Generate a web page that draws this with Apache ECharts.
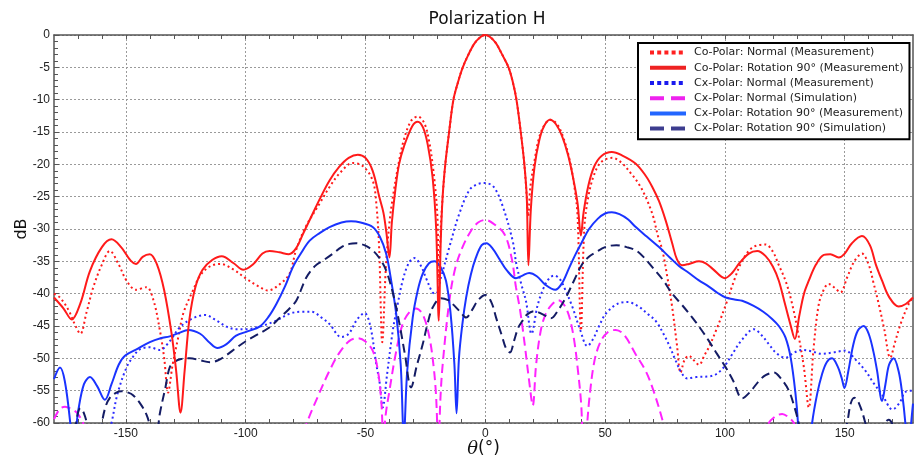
<!DOCTYPE html>
<html>
<head>
<meta charset="utf-8">
<script src="https://cdn.jsdelivr.net/npm/echarts@6/dist/echarts.min.js"></script>
<style>html,body{margin:0;padding:0;background:#fff}#c{width:915px;height:461px}</style>
</head>
<body>
<div id="c"></div>
<script>
// ---- axis ticks / labels ----
const xLabelValues = [-150, -100, -50, 0, 50, 100, 150];
const xMinorTickValues = [-170,-160,-150,-140,-130,-120,-110,-100,-90,-80,-70,-60,-50,-40,-30,-20,-10,0,10,20,30,40,50,60,70,80,90,100,110,120,130,140,150,160,170];

// ---- Co-Polar: Normal (Measurement) ----
const coNormTheta = [-180,-177.5,-174,-171,-169,-166.5,-163.6,-160,-156.7,-153,-149.7,-145.8,-141.4,-138.5,-135.8,-134,-132.4,-130.5,-128,-126,-122,-119,-115,-110.5,-105,-99.7,-95,-90.7,-86,-81.7,-79,-75,-69.2,-65,-60.8,-55.3,-51,-47,-45.5,-44.3,-43,-41.5,-40,-38.6,-36.5,-34,-31,-28.2,-25.5,-23.5,-21.5,-20,-19.4,-18.6,-17.8,-16.7,-15.1,-13.3,-11.4,-9.4,-7,-4.5,-2,0,2,4.5,7,9.7,11.5,13,14.8,16.3,17.3,17.9,18.8,20.5,22.5,25,27.2,30,32.5,35,37,38.5,39.9,41.3,43,45.5,48.5,53,57,61,64,67,70,72,73.9,76,78,80,81.5,83.2,85,87,89.2,91.5,93.3,96.5,100,104,107.2,111,114,117,120,122.5,125.3,128,130.5,133,135,137,139.2,141.5,143.3,145.5,148.2,151,154,157.2,160,162,164.2,166.5,169,171,173.5,176.7,178.5];
const coNormDb    = [-40,-40.6,-42.5,-45,-46.2,-43,-39,-35.5,-33.4,-35.5,-38,-39.4,-39,-41,-45.7,-50,-55.3,-51,-46.5,-43,-39.5,-37.2,-35.8,-35.4,-36.3,-37.7,-38.8,-39.5,-38.6,-36.9,-33.3,-29.7,-26.1,-23.5,-21.4,-19.8,-20.3,-22.5,-26,-33,-47.5,-36,-29,-25.1,-20.5,-16.2,-13.3,-12.6,-13.6,-16.3,-21.5,-28,-38,-30,-25,-20,-15,-10,-7.3,-5,-3,-1.3,-0.3,0,-0.3,-1.3,-3,-5,-7.3,-10,-15,-20,-25,-28,-23.5,-19.5,-15.8,-13.7,-13.1,-13.8,-15.8,-19,-23,-28,-45.7,-30,-25,-21.5,-19.6,-19,-19.8,-21.5,-23,-25.1,-28,-31,-33.3,-37.5,-42.1,-48,-52.2,-50.2,-49.6,-50.3,-51,-49.5,-48.3,-45.5,-42.1,-37.8,-34.9,-33,-32.5,-32.4,-33.5,-35.6,-38,-41.5,-46,-51.5,-57.6,-48.5,-41.6,-39.2,-38.5,-39,-39.8,-37.5,-35,-33.8,-35.5,-38.3,-41.6,-45.5,-49.9,-47.5,-44.5,-41.6,-40.5];

// ---- Co-Polar: Rotation 90° (Measurement) ----
const coRotTheta = [-180,-176,-172.6,-169,-165,-160,-156,-152,-148,-145.8,-143,-140,-137,-134,-131,-129,-127.2,-125.5,-123.5,-121,-118,-114,-110,-105,-101,-97,-93,-90,-86,-82,-79,-76,-72,-69,-65,-61,-57,-53.2,-50,-47,-44.2,-42.5,-41.3,-40,-39,-37.5,-36,-34,-30.5,-28.2,-26,-24,-22,-20.5,-19.4,-18.6,-17.8,-16.7,-15.1,-13.3,-11.4,-9.4,-7,-4.5,-2,0,2,4.5,7,9.7,11.5,13,14.8,16.3,17.3,18,19,20.5,22.5,24.5,27,29.5,32,34.5,36.5,38.5,39.9,41,43,45.5,48.5,52.8,57,62.8,67,69.7,72.5,75.3,78,80,82.2,85,89.2,92,95,100,103,106,110,113.5,117,120,122.5,125,127.5,129.2,131,133,135,138,141.3,144,147.5,150,153,157.2,160.5,163,165.6,168.5,172.5,175.5,178.5];
const coRotDb    = [-40.6,-42.3,-44,-41.5,-36.5,-32.8,-31.6,-32.8,-34.9,-35.4,-34.3,-33.9,-35.5,-39.5,-46,-52,-58.4,-52,-44,-39,-36.3,-34.8,-34.2,-35.3,-36.3,-35.5,-33.8,-33.4,-33.6,-33.9,-33,-30.7,-27.6,-25.3,-22.5,-20.4,-19,-18.5,-19,-21,-25.1,-27.5,-30.5,-34.4,-29,-23.8,-20,-17.3,-14.1,-13.4,-14.3,-17,-22,-30,-44.2,-32,-25,-20,-15,-10,-7.3,-5,-3,-1.3,-0.3,0,-0.3,-1.3,-3,-5,-7.3,-10,-15,-20,-25,-35.6,-27,-20.5,-16.3,-14.1,-13.1,-13.8,-15.6,-18.5,-21.8,-26,-31,-27.5,-23.3,-20.3,-18.7,-18.1,-18.6,-19.9,-21.8,-23.5,-25.7,-28.7,-32.2,-34.7,-35.6,-35.4,-35,-35.3,-36.2,-37.6,-36.8,-35.3,-33.8,-33.4,-34.2,-35.8,-38,-41.5,-45,-47,-43.5,-40,-38,-35.5,-34,-33.9,-34.4,-33.8,-32.2,-31.1,-32.5,-35.5,-38,-40.5,-42,-41.6,-40.6];

// ---- Cx-Polar: Normal (Measurement) ----
const cxNormMeasTheta = [-180,-160,-156,-153.5,-149.7,-146.5,-144.2,-140,-135.8,-132,-127.5,-122,-117,-112,-108,-104,-99.7,-94.2,-88,-81.7,-77,-72.6,-68,-65,-60.1,-57,-53.5,-50.4,-48,-45.5,-44,-42.8,-41,-38.6,-36.5,-34.5,-32,-29.6,-27,-24.5,-22,-20.5,-18.5,-15,-11,-6.7,-3.5,0,3.5,7,11.4,13,15,17,19.3,21.7,23.9,26.5,28.75,31,33.5,36.4,39.5,42.6,45,47.5,50.3,55,59.3,64,68,71.1,74.5,77,79.5,82,84.3,88,93.3,96.1,99.5,103,107,112.1,115.5,118.3,121.5,125.3,128.5,132.2,136,140.5,145,150.3,154,158.6,162,165.6,170,173,175.3,178.5];
const cxNormMeasDb    = [-75,-66,-60,-55.5,-51.4,-49.5,-48.6,-48.3,-48.7,-47.5,-45.2,-43.8,-43.3,-44.2,-45.1,-45.5,-45.5,-45.1,-44.3,-43.1,-42.8,-42.8,-43.8,-44.7,-46.7,-46.2,-44,-43,-45,-50.9,-54,-57.6,-52.5,-45.7,-41.5,-38,-35.3,-34.5,-35.6,-37.8,-39.8,-40,-37.5,-32.8,-27.8,-24,-23.1,-22.9,-23.5,-26.2,-31.8,-35.5,-38.5,-41.2,-46.2,-42,-39.5,-37.7,-37.2,-37.7,-39.5,-42.1,-45.5,-48.1,-47,-45,-43.1,-41.6,-41.3,-42,-43.2,-44.2,-46.3,-48.2,-50.4,-52.3,-53.1,-52.9,-52.8,-52.5,-51.4,-49.4,-47.2,-45.5,-46.5,-47.8,-49.2,-49.9,-49.2,-48.7,-48.9,-49.3,-49.1,-48.8,-50,-51.9,-53.8,-55.6,-57.9,-56.8,-55.2,-55];

// ---- Cx-Polar: Normal (Simulation) ----
const cxNormSimTheta = [-180,-177.5,-175.4,-173,-170.5,-168.5,-167,-165,-80,-77,-74.7,-70,-65,-61,-56.7,-53.2,-50,-47,-45,-43.5,-42.5,-41.5,-40,-37.5,-34.5,-31.5,-28.9,-26,-23.3,-21.5,-20.5,-19.6,-18.7,-17.8,-15,-12.5,-9.5,-6,-3,0,3.5,8,11,12.8,14.5,16.5,18.3,19.8,21.2,23,25,27.5,30.5,33,35,37,38.7,40,41,42,43.5,45.5,48,51,54.5,58,62.8,67,70,73.9,76,115,118,121,123.9,126.5,128.75,131,178.5];
const cxNormSimDb    = [-59.4,-57.8,-57.5,-57.8,-58.4,-59.5,-61,-64,-66,-63,-60.2,-56,-51.9,-49.2,-47.3,-46.9,-47.4,-48.8,-51.5,-56.1,-62,-58.5,-55,-49.5,-44.7,-42.8,-42.3,-43.3,-46.8,-51.5,-56.1,-64,-56,-51,-41.1,-36,-32.8,-30.3,-29,-28.6,-29.2,-30.8,-34.5,-39,-42.5,-48,-53.5,-57.3,-51,-46,-43.3,-41.8,-41,-41.8,-43.5,-47,-52,-57,-64,-62,-56,-50.5,-47.5,-46,-45.6,-46.4,-49.4,-52,-54.8,-59.5,-63,-64,-60.2,-59,-58.6,-59.1,-60,-63,-66];

// ---- Cx-Polar: Rotation 90° (Measurement) ----
const cxRotMeasTheta = [-180,-177.5,-175.5,-173.3,-171.8,-170.5,-169.9,-167.5,-165,-162,-158.75,-156,-153,-150.4,-145,-140,-135.5,-131.7,-128,-124,-119,-115,-111.8,-108,-104,-99,-94.2,-90.5,-87.2,-83.5,-80.3,-77,-73.3,-69,-65,-60,-56,-52,-47,-44,-41.4,-39.5,-37.2,-35.3,-34,-32.6,-30.3,-28.2,-26.1,-23.5,-21.25,-18.8,-16.4,-14.5,-12.9,-12,-11,-9.5,-8,-6,-3.9,-1.5,0.5,3,5.8,9,12.8,15.5,18.3,21.5,25,29.2,32,35,37.8,40.5,43.3,47,50,52.8,56,59.5,62.8,67.5,72.5,77,80.8,85,89,93.3,97,100.3,104,107.2,112,116,119.7,122.5,125.3,127.5,129.5,130.5,131.5,134,136.4,138.5,140.5,142.5,144.7,147,148.7,149.9,151.5,153.5,155.5,157.9,160,162,163.5,165.6,167,168.5,170.4,172.5,174,175.3,176.5,177.5,178.5];
const cxRotMeasDb    = [-53.2,-51.4,-53.5,-59.7,-66,-60,-58.1,-54,-52.9,-54.3,-56.4,-54,-51,-49.6,-48.5,-47.5,-46.9,-46.6,-46.1,-45.6,-46.2,-47.6,-48.4,-47.8,-46.5,-45.8,-45.1,-43.6,-41.6,-38.8,-35.9,-33.8,-31.8,-30.6,-29.7,-29,-28.8,-29,-29.7,-31.2,-33.8,-37.5,-43.1,-51,-62,-52,-43.7,-39.5,-36.9,-35.3,-35,-35.8,-38,-43,-50.9,-58.5,-50,-44.5,-40.6,-37,-34.4,-32.5,-32.2,-33,-34.6,-36.4,-37.6,-37.2,-36.8,-37.3,-38.6,-39.4,-38.4,-36,-33.8,-31.9,-30,-28.4,-27.6,-27.4,-27.7,-28.5,-29.7,-31.2,-32.8,-34.4,-35.7,-36.8,-37.9,-38.9,-39.9,-40.6,-40.9,-41.1,-41.9,-42.8,-43.9,-45,-46.8,-50,-55.6,-60,-68,-68,-60,-55.5,-52.5,-50.6,-50,-51.2,-53,-54.6,-52,-48,-45.7,-45,-46.2,-49,-51.9,-56.6,-54,-51,-50,-52,-55.5,-60,-66,-61,-57];

// ---- Cx-Polar: Rotation 90° (Simulation) ----
const cxRotSimTheta = [-180,-172,-171,-169,-167.5,-166,-164,-161,-160,-158.5,-156.7,-154,-151.8,-149,-147,-144,-141.4,-140,-138.2,-136.5,-135.8,-133.5,-131.7,-129.5,-127,-123.3,-119,-115,-111.5,-108,-104,-99.7,-95,-90,-86,-82,-78.9,-74.7,-71,-67.8,-63.6,-60,-56.7,-53.9,-50.5,-47,-44,-41.4,-38.5,-35.8,-33.5,-31,-28.5,-26.1,-24,-21.9,-18.5,-15.5,-13.6,-10.5,-8,-5.5,-3,0,2.5,4.5,7,8.7,10.3,12,13.7,15.5,17.5,20.4,24,27.4,30.5,33.6,37,40.5,43.5,46.1,50,54.7,59,62.8,66.5,69.7,74,78,82,86.4,90,93.3,96.5,100,103.5,107.2,110.5,114.2,117,120.4,123.5,126.7,129,130.8,133,148,151,152.5,154,156,158.6,161,165.5,166.5,168.3,170,171.5,178.5];
const cxRotSimDb    = [-66,-64,-60.5,-57.7,-58.5,-60.5,-65,-63,-60,-57.5,-56.1,-55.3,-55.1,-55.3,-55.7,-57,-58.7,-60.5,-65,-60.5,-58.5,-54.5,-51.4,-50.5,-50.1,-50,-50.3,-50.6,-50.3,-49.5,-48.4,-47.3,-46.3,-45.2,-43.8,-42.4,-41.1,-37.5,-35.7,-34.9,-33.8,-32.8,-32.3,-32.2,-32.5,-33.3,-34.6,-36.4,-40,-44.7,-49.5,-54.5,-51,-47.8,-44.5,-42.1,-40.7,-41,-41.6,-42.8,-43.7,-42.5,-41,-40.2,-41.3,-43.7,-46.6,-48.5,-49.1,-47.3,-45.3,-44.2,-43.2,-42.7,-43.2,-43.8,-42.5,-40.6,-38,-35.4,-34.2,-33.6,-32.8,-32.5,-32.8,-33.3,-34.5,-35.9,-37.8,-40,-41.7,-43.7,-45.5,-47.3,-49.2,-51.2,-53.5,-56.2,-55.2,-53.5,-52.6,-52.2,-53.2,-55,-57.5,-60,-64,-64,-60,-57,-56.1,-57,-60,-64,-63,-60.3,-59.5,-60.3,-63,-66];

const seriesNames = [
  'Co-Polar: Normal (Measurement)',
  'Co-Polar: Rotation 90° (Measurement)',
  'Cx-Polar: Normal (Measurement)',
  'Cx-Polar: Normal (Simulation)',
  'Cx-Polar: Rotation 90° (Measurement)',
  'Cx-Polar: Rotation 90° (Simulation)'
];

function zip(xs, ys) { return xs.map((x, i) => [x, ys[i]]); }

const seriesData = [
  zip(coNormTheta, coNormDb),
  zip(coRotTheta, coRotDb),
  zip(cxNormMeasTheta, cxNormMeasDb),
  zip(cxNormSimTheta, cxNormSimDb),
  zip(cxRotMeasTheta, cxRotMeasDb),
  zip(cxRotSimTheta, cxRotSimDb)
];

const styles = [
  { color: '#ff1a1a', type: [2, 3], legendType: [4, 3.2], legendColor: '#ff2020' },
  { color: '#ff1a1a', type: 'solid', legendType: 'solid', legendColor: '#ee2222' },
  { color: '#2b2bff', type: [2, 3], legendType: [4, 3.2], legendColor: '#1a1aee' },
  { color: '#ff22ff', type: [9, 5], legendType: [14, 7], legendColor: '#ee22ee' },
  { color: '#1a33ff', type: 'solid', legendType: 'solid', legendColor: '#2266ff' },
  { color: '#141c64', type: [9, 5], legendType: [14, 7], legendColor: '#3d3d8f' }
];

const XMIN = -180, XMAX = 178.5;
const axisColor = '#555';
const gridLine = { show: true, lineStyle: { color: '#9a9a9a', width: 1, type: [2, 2] } };

const chart = echarts.init(document.getElementById('c'), null, { renderer: 'canvas' });
chart.setOption({
  animation: false,
  backgroundColor: '#fff',
  title: {
    text: 'Polarization H',
    left: 482, top: 6, textAlign: 'center',
    textStyle: { fontFamily: 'DejaVu Sans', fontSize: 17, fontWeight: 'normal', color: '#111' }
  },
  grid: { left: 54, right: 2, top: 35, bottom: 38, containLabel: false, outerBoundsMode: 'none' },
  legend: {
    orient: 'vertical',
    left: 638, top: 43,
    padding: [4, 6, 5, 10],
    itemGap: 4,
    itemWidth: 36,
    itemHeight: 14,
    backgroundColor: '#fff',
    borderColor: '#000',
    borderWidth: 2,
    borderRadius: 0,
    itemStyle: { opacity: 0 },
    textStyle: { fontFamily: 'DejaVu Sans', fontSize: 11, color: '#222', padding: [0, 0, 0, 3] },
    data: seriesNames.map((n, i) => ({
      name: n,
      itemStyle: { opacity: 0 },
      lineStyle: { width: 4, type: styles[i].legendType, color: styles[i].legendColor }
    }))
  },
  xAxis: [
    {
      type: 'value', min: XMIN, max: XMAX, position: 'bottom',
      axisLine: { show: true, onZero: false, lineStyle: { color: axisColor, width: 1.5 } },
      axisTick: { show: true, inside: true, length: 4, customValues: xMinorTickValues, lineStyle: { color: axisColor } },
      axisLabel: { show: true, customValues: xLabelValues, fontFamily: 'Liberation Sans', fontSize: 12, color: '#222', margin: 5 },
      splitLine: { show: false },
      name: '{i|θ}(°)', nameLocation: 'middle', nameGap: 17, nameMoveOverlap: false,
      nameTextStyle: {
        fontFamily: 'DejaVu Sans', fontSize: 17, color: '#111',
        rich: { i: { fontFamily: 'DejaVu Serif', fontStyle: 'italic', fontSize: 18, color: '#111' } }
      }
    },
    {
      type: 'value', min: XMIN, max: XMAX, position: 'bottom',
      axisLine: { show: false, onZero: false },
      axisTick: { show: false, customValues: xLabelValues },
      axisLabel: { show: false, customValues: xLabelValues },
      splitLine: gridLine
    },
    {
      type: 'value', min: XMIN, max: XMAX, position: 'top',
      axisLine: { show: true, onZero: false, lineStyle: { color: axisColor, width: 1.5 } },
      axisTick: { show: true, inside: true, length: 4, customValues: xMinorTickValues, lineStyle: { color: axisColor } },
      axisLabel: { show: false },
      splitLine: { show: false }
    }
  ],
  yAxis: [
    {
      type: 'value', min: -60, max: 0, interval: 5, position: 'left',
      axisLine: { show: true, onZero: false, lineStyle: { color: axisColor, width: 1.5 } },
      axisTick: { show: true, inside: true, length: 5, lineStyle: { color: axisColor } },
      minorTick: { show: true, splitNumber: 5, length: 4, lineStyle: { color: axisColor } },
      axisLabel: { fontFamily: 'Liberation Sans', fontSize: 12, color: '#222', margin: 4 },
      splitLine: gridLine,
      name: 'dB', nameLocation: 'middle', nameGap: 24, nameMoveOverlap: false,
      nameTextStyle: { fontFamily: 'DejaVu Sans', fontSize: 16, color: '#111' }
    },
    {
      type: 'value', min: -60, max: 0, position: 'right',
      axisLine: { show: true, onZero: false, lineStyle: { color: axisColor, width: 1.5 } },
      axisTick: { show: false }, axisLabel: { show: false }, splitLine: { show: false }
    }
  ],
  series: seriesNames.map((n, i) => ({
    name: n,
    type: 'line',
    xAxisIndex: 0, yAxisIndex: 0,
    data: seriesData[i],
    showSymbol: false,
    symbol: 'none',
    smooth: 0.35,
    clip: true,
    z: 3 + (i === 1 ? 2 : 0),
    lineStyle: { color: styles[i].color, width: 2, type: styles[i].type },
    itemStyle: { color: styles[i].color },
    emphasis: { disabled: true }
  }))
});
</script>
</body>
</html>
